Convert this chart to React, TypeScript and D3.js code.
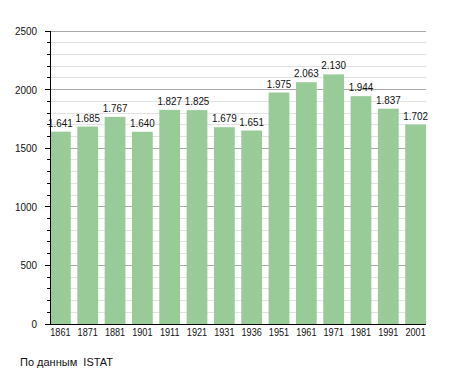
import React from "react";
import * as d3 from "d3";

const years = ["1861","1871","1881","1901","1911","1921","1931","1936","1951","1961","1971","1981","1991","2001"];
const population = [1641,1685,1767,1640,1827,1825,1679,1651,1975,2063,2130,1944,1837,1702];
const yTicks = [0,500,1000,1500,2000,2500];
const source = "По данным  ISTAT";

export default function App() {
  const W = 455, H = 373;
  const left = 50, right = 426, top = 31, bottom = 324;
  const x = d3.scaleBand<string>().domain(years).range([left, right]).paddingInner(0.24).paddingOuter(0);
  const y = d3.scaleLinear().domain([0, 2500]).range([bottom, top]);
  const minor = d3.range(0, 2501, 100);
  const fmt = (v: number) => d3.format(",")(v).replace(/,/g, ".");
  const font = "'Liberation Sans', Arial, sans-serif";
  const cx = (k: string) => (x(k) as number) + x.bandwidth() / 2;
  return (
    <svg width={W} height={H} style={{ position: "absolute", left: 0, top: 0 }} fontFamily={font}>
      <rect width={W} height={H} fill="#fff" />
      {minor.map((v) => (
        <line key={"g" + v} x1={left} x2={right} y1={y(v)} y2={y(v)}
          stroke={v % 500 === 0 ? "#a8a8a8" : "#e2e2e2"} strokeWidth={1} shapeRendering="crispEdges" />
      ))}
      {minor.map((v) => (
        <line key={"t" + v} x1={v % 500 === 0 ? left - 5 : left - 3} x2={left} y1={y(v)} y2={y(v)}
          stroke="#000" strokeWidth={1} shapeRendering="crispEdges" />
      ))}
      {population.map((v, i) => (
        <rect key={"b" + i} x={x(years[i])} y={y(v)} width={x.bandwidth()} height={bottom - y(v)} fill="#98cb98" />
      ))}
      {population.map((v, i) => (
        <text key={"l" + i} transform={`translate(${cx(years[i])},${y(v) - 5}) scale(0.88,1)`}
          textAnchor="middle" fontSize={11.2} fill="#111">{fmt(v)}</text>
      ))}
      <line x1={left} x2={left} y1={top} y2={bottom} stroke="#000" shapeRendering="crispEdges" />
      <line x1={left} x2={right} y1={bottom} y2={bottom} stroke="#000" shapeRendering="crispEdges" />
      {yTicks.map((v) => (
        <text key={"y" + v} transform={`translate(37,${y(v) + 4}) scale(0.9,1)`}
          textAnchor="end" fontSize={11} fill="#111">{v}</text>
      ))}
      {years.map((yr) => (
        <text key={"x" + yr} transform={`translate(${cx(yr)},${bottom + 12}) scale(0.87,1)`}
          textAnchor="middle" fontSize={10.5} fill="#111">{yr}</text>
      ))}
      <text x={20} y={366} fontSize={11} fill="#111" style={{ whiteSpace: "pre" }}>{source}</text>
    </svg>
  );
}
